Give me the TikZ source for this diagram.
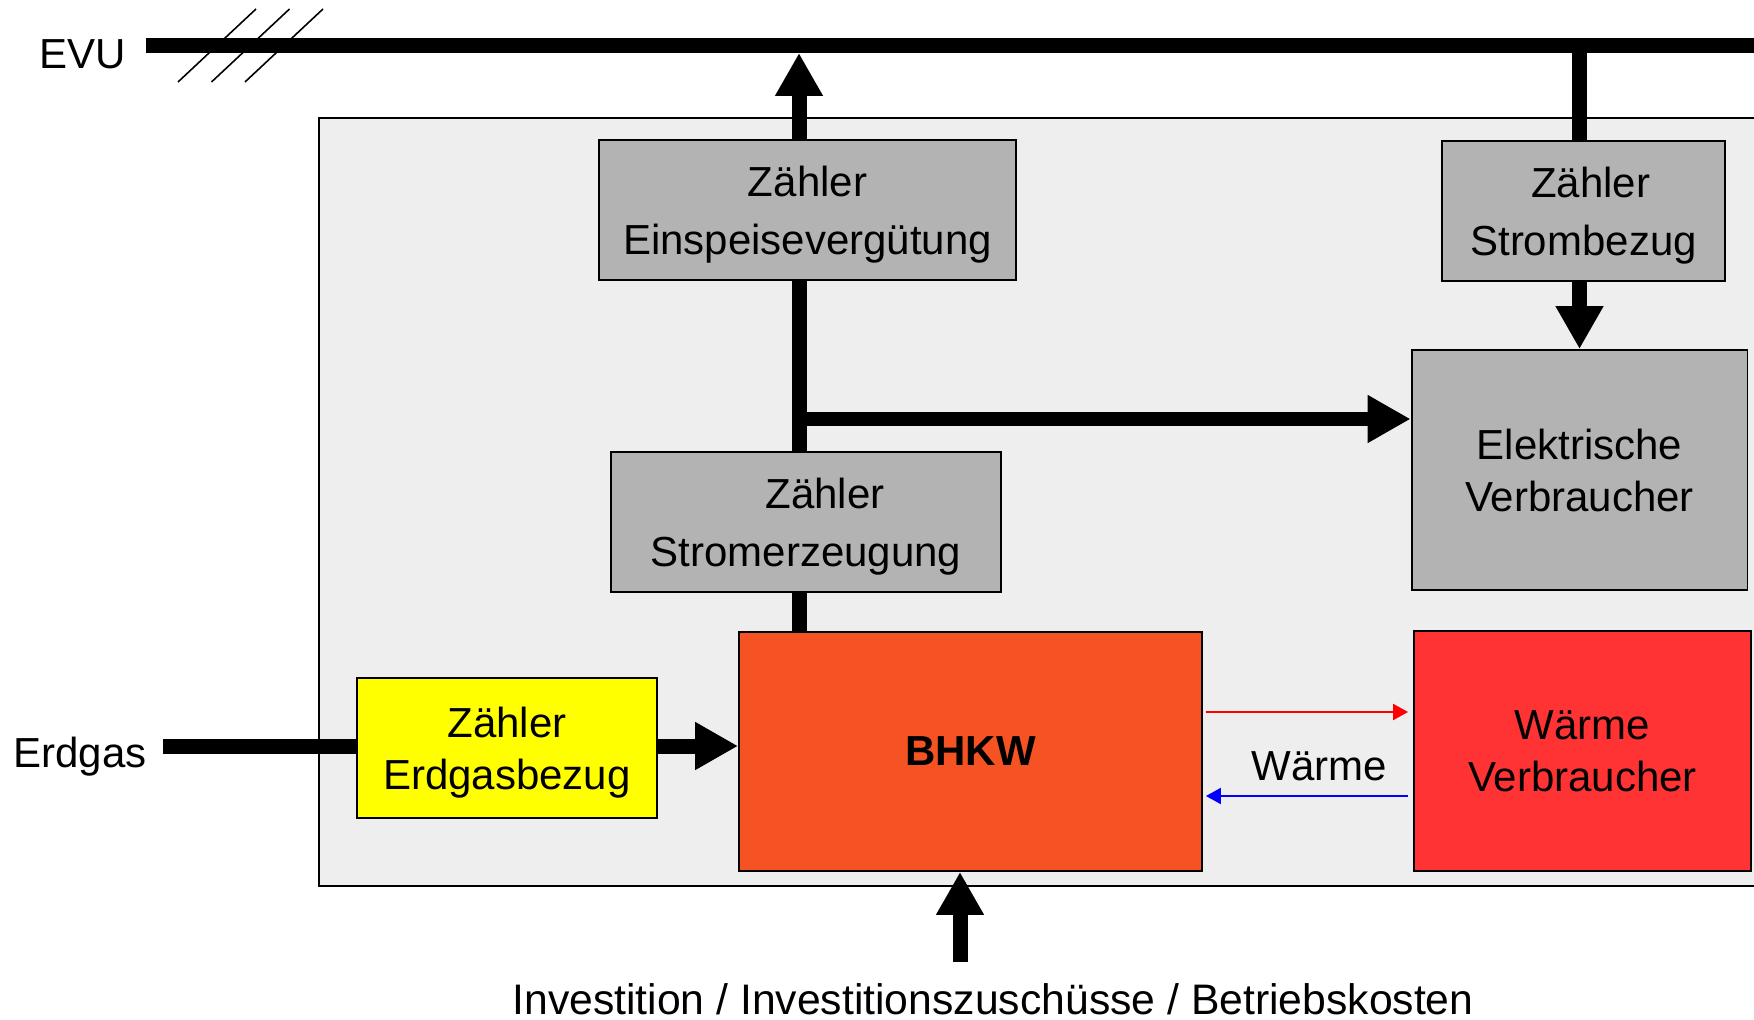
\documentclass[tikz,border=0pt]{standalone}
\usepackage{fontspec}
\setmainfont{Liberation Sans}
\usetikzlibrary{arrows.meta,calc,positioning}

\definecolor{bggrey}{RGB}{238,238,238}
\definecolor{boxgrey}{RGB}{179,179,179}
\definecolor{gasyellow}{RGB}{255,255,0}
\definecolor{bhkworange}{RGB}{246,83,36}
\definecolor{heatred}{RGB}{255,51,51}

\tikzset{
  box/.style={draw=black, line width=1.1pt, inner sep=0pt, align=center, font=\fontsize{23.9}{33}\selectfont},
  zaehler/.style={box, fill=boxgrey, minimum height=2.8cm, text depth=-0.15cm},
  verbr/.style={box, minimum width=6.72cm, minimum height=4.8cm, font=\fontsize{23.9}{29.5}\selectfont},
  fat/.style={line width=0.3cm},
  fatarrow/.style={fat, -{Triangle[width=0.9cm,length=0.86cm]}},
  heat/.style={line width=1.2pt, -{Triangle[width=0.32cm,length=0.3cm]}},
  lbl/.style={inner sep=0pt, font=\fontsize{23.9}{29}\selectfont}
}

\begin{document}
\begin{tikzpicture}[x=0.02cm, y=-0.02cm]
	\clip (0,0) rectangle (1754,1020);
	% Anlagengrenze
	\draw[line width=1.1pt, fill=bggrey] (319,118) rectangle (1780,886);
	% Netz
	\coordinate (busL) at (146,45.5);
	\coordinate (busR) at (1780,45.5);
	\draw[fat] (busL) -- (busR);
	\foreach \d in {0,33.5,67}{\draw[line width=0.9pt] (178+\d,82) -- (256+\d,9);}
	\node[lbl, anchor=base east] (evu) at (126,69) {EVU};
	% Boxen
	\node[zaehler, minimum width=8.34cm] (einsp) at (807.5,210) {Zähler\\Einspeisevergütung};
	\node[zaehler, minimum width=7.8cm] (erzeug) at (806,522) {\hspace*{0.76cm}Zähler\\Stromerzeugung};
	\node[zaehler, minimum width=5.66cm] (bezug) at (1583.5,211) {\hspace*{0.28cm}Zähler\\Strombezug};
	\node[verbr, fill=boxgrey, text depth=-0.14cm] (elverb) at (1579.5,470) {Elektrische\\Verbraucher};
	\node[box, fill=bhkworange, minimum width=9.26cm, minimum height=4.78cm, text depth=-0.16cm, font=\fontsize{23.9}{29}\bfseries] (bhkw) at (970.5,751.5) {BHKW};
	\node[zaehler, fill=gasyellow, minimum width=6cm, text depth=-0.2cm, font=\fontsize{23.9}{29.5}\selectfont] (gas) at (507,748) {Zähler\\Erdgasbezug};
	\node[verbr, fill=heatred, minimum width=6.74cm, text depth=-0.22cm] (wverb) at (1582.5,751) {Wärme\\Verbraucher};
	% Strom
	\coordinate (tap) at (799,419);
	\coordinate (branch) at (807,419);
	\coordinate (feedin) at (799,53);
	\draw[fatarrow] (einsp.north -| tap) -- (feedin);
	\draw[fat] (einsp.south -| tap) -- (erzeug.north -| tap);
	\draw[fat] (erzeug.south -| tap) -- (bhkw.north -| tap);
	\draw[fatarrow] (branch) -- (branch -| elverb.west);
	\draw[fat] (busL -| elverb.north) -- (bezug.north -| elverb.north);
	\draw[fatarrow] (bezug.south -| elverb.north) -- (elverb.north);
	% Gas
	\coordinate (gasin) at (163,746);
	\node[lbl, anchor=base east] (erdgas) at (147,767) {Erdgas};
	\draw[fat] (gasin) -- (gasin -| gas.west);
	\draw[fatarrow] (gas.east |- gasin) -- (bhkw.west |- gasin);
	% Waerme
	\coordinate (hot) at (1300,712);
	\coordinate (cold) at (1300,796);
	\draw[heat, red, shorten <=0.06cm, shorten >=0.1cm] (bhkw.east |- hot) -- (wverb.west |- hot);
	\draw[heat, blue, shorten <=0.1cm, shorten >=0.06cm] (wverb.west |- cold) -- (bhkw.east |- cold);
	\node[lbl, anchor=base] (waerme) at (1319,780) {Wärme};
	% Kosten
	\coordinate (inv) at (960,962);
	\draw[fatarrow] (inv) -- (inv |- bhkw.south);
	\node[lbl, anchor=base, font=\fontsize{24.3}{29}\selectfont] (kosten) at (993,1014) {Investition / Investitionszuschüsse / Betriebskosten};
\end{tikzpicture}
\end{document}
